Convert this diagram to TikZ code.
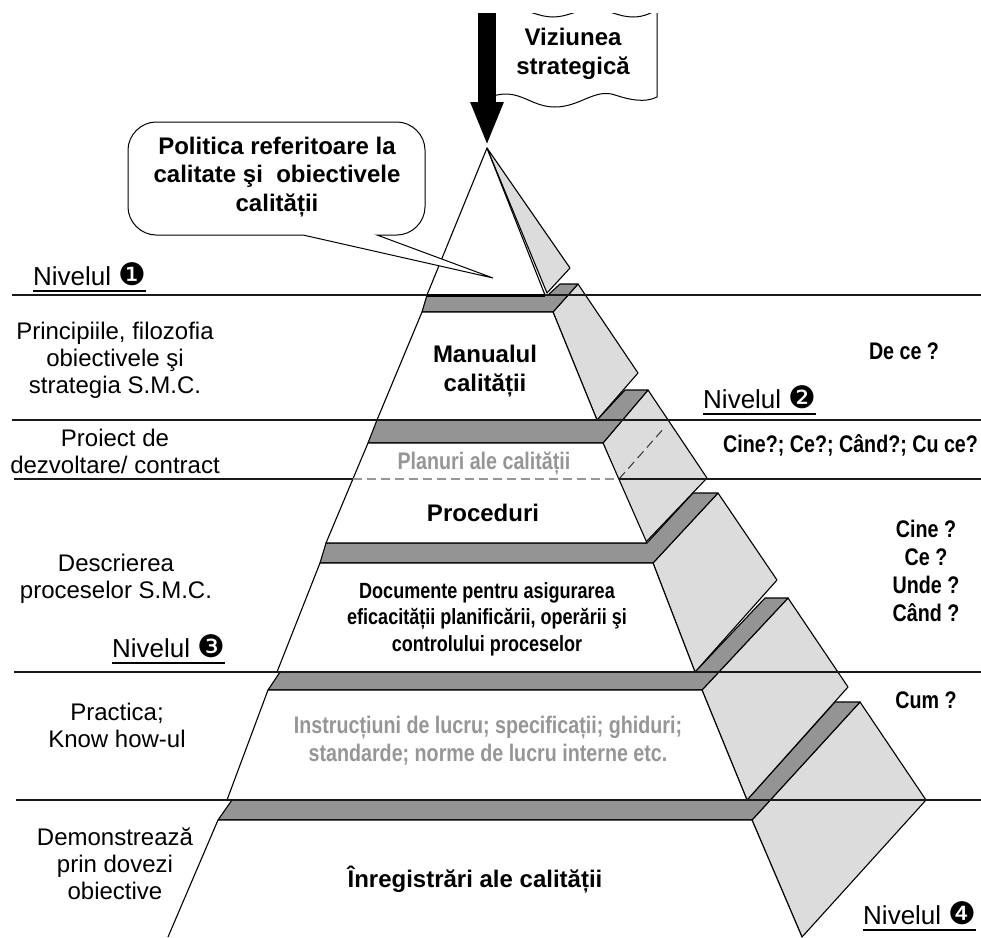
\documentclass[tikz,border=0pt]{standalone}
\usepackage{fontspec}
\setmainfont{Liberation Sans}
\newfontfamily\narrowfont[FakeStretch=0.82]{Liberation Sans}
\newfontfamily\dingfont{DejaVu Sans}
\usetikzlibrary{calc,arrows.meta}
\definecolor{slabgray}{RGB}{148,148,148}
\definecolor{sidegray}{RGB}{220,220,220}
\definecolor{softtext}{RGB}{150,150,150}
\newcommand{\levelmark}[1]{{\dingfont\fontsize{31}{31}\selectfont #1}}

\begin{document}
\begin{tikzpicture}[x=1pt,y=-1pt,
  edge/.style={draw=black,line width=1.1pt,line join=round},
  slabface/.style={edge,fill=slabgray},
  sideface/.style={edge,fill=sidegray},
  frontface/.style={edge,fill=white},
  rule/.style={draw=black!90,line width=1.8pt},
  lefttext/.style={font=\fontsize{24}{27}\selectfont,align=center,inner sep=0pt},
  boldtext/.style={font=\fontsize{24}{28.5}\selectfont\bfseries,align=center,inner sep=0pt},
  narrowbold/.style={font=\fontsize{24}{28}\selectfont\narrowfont\bfseries,align=center,inner sep=0pt},
  level/.style={font=\fontsize{26}{30}\selectfont,inner sep=0pt,anchor=base west},
  underline/.style={draw=black,line width=1.6pt}
]
\useasboundingbox (0,0) rectangle (981,937);

% ---- bottom layer: records
\path[sideface] (752,820) -- (860,702) -- (926,800) -- (802,937) -- cycle;
\path[slabface] (232,800) -- (218,820) -- (752,820) -- (860,702) -- (835,702) -- (747,800) -- cycle;
\fill[white] (168,937) -- (218,820) -- (752,820) -- (802,937) -- cycle;
\draw[edge] (168,937) -- (218,820) -- (752,820) -- (802,937);

% ---- work instructions
\path[sideface] (702,690) -- (788,598) -- (848,687) -- (747,800) -- cycle;
\path[slabface] (280,672) -- (268,690) -- (702,690) -- (788,598) -- (765,598) -- (695,672) -- cycle;
\path[frontface] (268,690) -- (702,690) -- (747,800) -- (227,800) -- cycle;

% ---- process documents
\path[sideface] (653,563) -- (718,493) -- (777,580) -- (695,672) -- cycle;
\path[slabface] (326,543) -- (320,563) -- (653,563) -- (718,493) -- (693,493) -- (647,543) -- cycle;
\path[frontface] (320,563) -- (653,563) -- (695,672) -- (277,672) -- cycle;

% ---- plans and procedures
\path[sideface] (603,443) -- (648,390) -- (707,478) -- (645,543) -- cycle;
\path[slabface] (377,420) -- (368,443) -- (603,443) -- (648,390) -- (625,390) -- (597,420) -- cycle;
\path[frontface] (368,443) -- (603,443) -- (647,543) -- (326,543) -- cycle;
\draw[softtext,line width=1.6pt,dash pattern=on 9pt off 5pt] (353,479) -- (619,479);
\draw[black!75,line width=1.1pt,dash pattern=on 9pt off 5pt] (619,479) -- (665,427);

% ---- quality manual
\path[sideface] (553,312) -- (578,284) -- (638,373) -- (597,420) -- cycle;
\path[slabface] (427,295) -- (422,312) -- (553,312) -- (578,284) -- (560,284) -- (548,295) -- cycle;
\path[frontface] (422,312) -- (553,312) -- (597,420) -- (377,420) -- cycle;

% ---- top cone
\coordinate (apex) at (487,148);
\path[frontface] (apex) -- (427,295) -- (545,295) -- cycle;
\path[sideface] (apex) -- (570,268) -- (547,293) -- cycle;

% ---- level rules
\draw[rule] (12,295) -- (981,295);
\draw[line width=3pt] (427,295) -- (545,295);
\draw[rule] (12,420) -- (981,420);
\draw[rule] (14,479) -- (353,479);
\draw[rule] (619,479) -- (981,479);
\draw[rule] (14,672) -- (981,672);
\draw[rule] (16,800) -- (981,800);

% ---- policy callout
\path[draw=black,line width=1pt,fill=white]
  (303,235) -- (156,235) .. controls (141,235) and (128,222) .. (128,207)
  -- (128,150) .. controls (128,135) and (141,122) .. (156,122)
  -- (397,122) .. controls (412,122) and (425,135) .. (425,150)
  -- (425,207) .. controls (425,222) and (412,235) .. (397,235)
  -- (377,235) -- (493,278) -- cycle;
\node[boldtext] (policy) at (277,177) {Politica referitoare la\\calitate şi\ \ obiectivele\\calității};

% ---- vision banner
\begin{scope}
  \clip (470,13) rectangle (680,130);
  \path[draw=black,line width=1pt,fill=white]
    (493,96) -- (493,11) .. controls (500,9) and (505,9) .. (513,9)
    .. controls (528,9) and (538,17) .. (553,17)
    .. controls (568,17) and (578,9) .. (593,9)
    .. controls (608,9) and (618,17) .. (633,17)
    .. controls (645,17) and (652,12) .. (657,10)
    -- (657,97)
    .. controls (645,103) and (630,100) .. (615,95)
    .. controls (595,88) and (580,107) .. (555,107)
    .. controls (530,107) and (520,88) .. (493,96) -- cycle;
\end{scope}
\node[boldtext] (vision) at (573,54) {Viziunea\\strategică};
\coordinate (skytop) at (487,13);
\draw[line width=18pt,-{Triangle[width=30pt,length=44pt]}] (skytop) -- ([yshift=2pt]apex);

% ---- texts inside the pyramid
\node[boldtext] (manual) at (485,371) {Manualul\\calității};
\node[narrowbold,text=softtext] (plans) at (484,463) {Planuri ale calității};
\node[boldtext] (procedures) at (483,513) {Proceduri};
\node[narrowbold,font=\fontsize{22}{26.5}\selectfont\narrowfont\bfseries] (documents) at (487,619)
  {Documente pentru asigurarea\\eficacității planificării, operării şi\\controlului proceselor};
\node[narrowbold,text=softtext] (instructions) at (488,741)
  {Instrucțiuni de lucru; specificații; ghiduri;\\standarde; norme de lucru interne etc.};
\node[boldtext] (records) at (475,880) {Înregistrări ale calității};

% ---- left column
\node[lefttext] (principles) at (115,360) {Principiile, filozofia\\obiectivele şi\\strategia S.M.C.};
\node[lefttext] (project) at (115,451) {Proiect de\\dezvoltare/ contract};
\node[lefttext] (description) at (116,579) {Descrierea\\proceselor S.M.C.};
\node[lefttext] (practice) at (117,725) {Practica;\\Know how-ul};
\node[lefttext] (evidence) at (115,864) {Demonstrează\\prin dovezi\\obiective};

% ---- right column
\node[narrowbold] (why) at (904,351) {De ce ?};
\node[narrowbold,anchor=west] (whoall) at (723,445) {Cine?; Ce?; Când?; Cu ce?};
\node[narrowbold] (whowhat) at (926,571) {Cine ?\\Ce ?\\Unde ?\\Când ?};
\node[narrowbold] (how) at (926,700) {Cum ?};

% ---- level labels
\node[level] (lv1) at (33,285) {Nivelul \levelmark{❶}};
\draw[underline] ($(lv1.base west)+(0,6)$) -- ($(lv1.base east)+(0,6)$);
\node[level] (lv2) at (703,408) {Nivelul \levelmark{❷}};
\draw[underline] ($(lv2.base west)+(0,6)$) -- ($(lv2.base east)+(0,6)$);
\node[level] (lv3) at (112,657) {Nivelul \levelmark{❸}};
\draw[underline] ($(lv3.base west)+(0,6)$) -- ($(lv3.base east)+(0,6)$);
\node[level] (lv4) at (863,924) {Nivelul \levelmark{❹}};
\draw[underline] ($(lv4.base west)+(0,6)$) -- ($(lv4.base east)+(0,6)$);
\end{tikzpicture}
\end{document}
